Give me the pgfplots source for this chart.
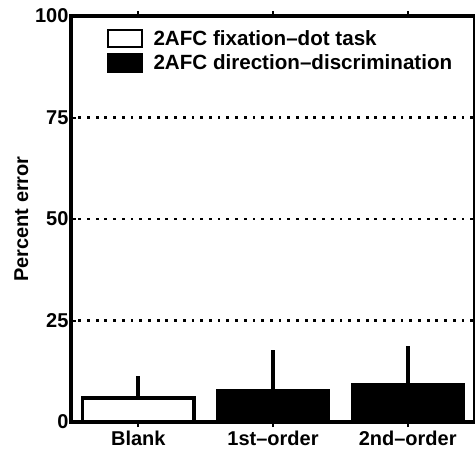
\documentclass[border=0pt]{standalone}
\usepackage{fontspec}
\setmainfont{Liberation Sans}
\usepackage{pgfplots}
\pgfplotsset{compat=1.18}
\begin{document}
\begin{tikzpicture}
\begin{axis}[
  at={(0,0)}, anchor=south west,
  scale only axis, width=404pt, height=406pt,
  xmin=0.5, xmax=3.5, ymin=0, ymax=100,
  axis line style={line width=3.5pt},
  xtick={1,2,3}, xticklabels={Blank,1st--order,2nd--order},
  ytick={0,25,50,75,100},
  xtick pos=both, ytick pos=left,
  tick align=inside, major tick length=5pt,
  tick style={line width=2pt, black},
  ymajorgrids, grid style={black, line width=2.8pt, dash pattern=on 0.01pt off 8.7pt, line cap=rect},
  /pgf/number format/assume math mode=true,
  ticklabel style={font=\fontsize{20}{24}\selectfont\bfseries},
  xticklabel style={yshift=0pt},
  yticklabel style={xshift=1pt},
  ylabel={\fontsize{20}{24}\selectfont\bfseries Percent error},
  ylabel style={yshift=0pt},
  ybar, bar shift=0pt, bar width=0.83,
  legend style={at={(rel axis cs:0.08,0.975)}, anchor=north west, draw=none, fill=none,
    font=\fontsize{20.6}{24}\selectfont\bfseries, row sep=4pt, cells={anchor=west}},
  legend image code/.code={\draw[#1, line width=2.5pt] (0pt,-8.5pt) rectangle (34pt,8.5pt); \path (42pt,0pt);},
]
\addplot[draw=black, fill=white, line width=3.5pt,
  error bars/.cd, y dir=plus, y explicit, error mark=none,
  error bar style={line width=4pt, black}]
  coordinates {(1,5.9) +- (0,5.4)};
\addlegendentry{2AFC fixation--dot task}
\addplot[draw=black, fill=black, line width=2pt,
  error bars/.cd, y dir=plus, y explicit, error mark=none,
  error bar style={line width=4pt, black}]
  coordinates {(2,7.9) +- (0,9.8) (3,9.4) +- (0,9.3)};
\addlegendentry{2AFC direction--discrimination}
\end{axis}
\pgfresetboundingbox
\path (-71pt,-29pt) rectangle (404pt,422pt);
\end{tikzpicture}
\end{document}
